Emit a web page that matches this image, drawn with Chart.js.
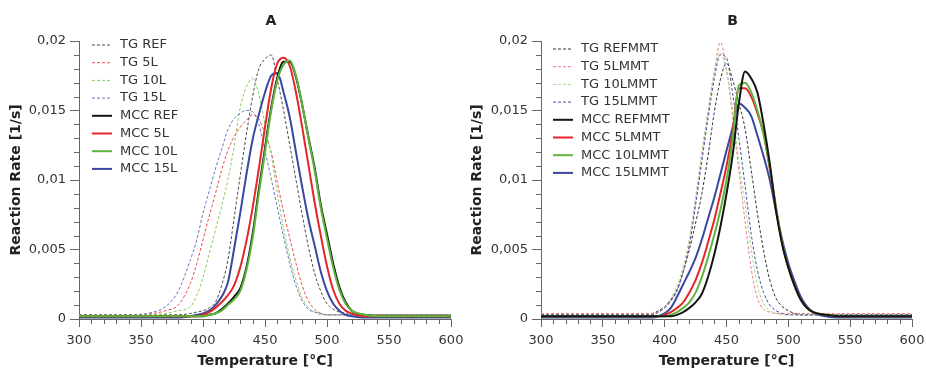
<!DOCTYPE html>
<html>
<head>
<meta charset="utf-8">
<script src="https://cdn.jsdelivr.net/npm/chart.js@4.4.1/dist/chart.umd.min.js"></script>
<style>
  body { margin: 0; background: #fff; }
  .wrap { position: absolute; top: 0; width: 463px; height: 370px; }
</style>
</head>
<body>
<div class="wrap" style="left:0"><canvas id="chartA"></canvas></div>
<div class="wrap" style="left:463px"><canvas id="chartB"></canvas></div>
<script>
// temperature points (°C), shared by every curve
const temps = [300, 320, 340, 360, 370, 380, 390, 395, 400, 405, 410, 415, 420, 425, 430, 435,
  440, 445, 450, 455, 460, 465, 470, 475, 480, 485, 490, 495, 500, 505, 510, 515, 520, 530, 540, 560, 580, 600];

const xTicks = [300, 350, 400, 450, 500, 550, 600];
const yTicks = [0, 0.005, 0.01, 0.015, 0.02];

// ---- panel A ----
const labelsA = ['TG REF', 'TG 5L', 'TG 10L', 'TG 15L', 'MCC REF', 'MCC 5L', 'MCC 10L', 'MCC 15L'];
const tgRefA = [.0003, .0003, .0003, .0003, .0003, .0003,
  .0004, .0005, .0006, .0008, .0012, .0024, .0042, .0072, .0103, .0133,
  .0160, .0180, .0187, .0190, .0172, .0150, .0125, .0100, .0075, .0052, .0033, .0020,
  .0011, .0007, .0005, .0004, .0003, .0003, .0003, .0003, .0003, .0003];
const tg5lA = [.0003, .0003, .0003, .0004, .0006, .0010,
  .0026, .0040, .0057, .0074, .0090, .0107, .0121, .0131, .0138, .0143,
  .0147, .0144, .0133, .0120, .0098, .0077, .0058, .0040, .0024, .0013, .0007, .0004,
  .0003, .0003, .0003, .0003, .0003, .0003, .0003, .0003, .0003, .0003];
const tg10lA = [.0003, .0003, .0003, .0003, .0004, .0006,
  .0009, .0017, .0030, .0047, .0064, .0081, .0100, .0124, .0152, .0167,
  .0173, .0162, .0140, .0118, .0090, .0065, .0044, .0028, .0015, .0008, .0005, .0003,
  .0003, .0003, .0003, .0003, .0003, .0003, .0003, .0003, .0003, .0003];
const tg15lA = [.0003, .0003, .0003, .0005, .0009, .0020,
  .0043, .0057, .0076, .0092, .0108, .0122, .0136, .0144, .0148, .0150,
  .0149, .0140, .0121, .0101, .0080, .0059, .0040, .0024, .0013, .0007, .0005, .0004,
  .0003, .0003, .0003, .0003, .0003, .0003, .0003, .0003, .0003, .0003];
const mccRefA = [.0002, .0002, .0002, .0002, .0002, .0002,
  .0002, .0002, .0002, .0003, .0004, .0007, .0011, .0016, .0022, .0037,
  .0061, .0093, .0123, .0152, .0174, .0185, .0185, .0174, .0154, .0131, .0109, .0082,
  .0061, .0040, .0023, .0012, .0006, .0003, .0002, .0002, .0002, .0002];
const mcc5lA = [.0002, .0002, .0002, .0002, .0002, .0002,
  .0002, .0002, .0003, .0005, .0008, .0012, .0017, .0024, .0037, .0056,
  .0080, .0108, .0138, .0166, .0184, .0188, .0182, .0163, .0138, .0111, .0084, .0060,
  .0038, .0021, .0011, .0006, .0004, .0002, .0002, .0002, .0002, .0002];
const mcc10lA = [.0002, .0002, .0002, .0002, .0002, .0002,
  .0002, .0002, .0002, .0003, .0004, .0006, .0010, .0014, .0020, .0035,
  .0058, .0090, .0120, .0150, .0172, .0183, .0186, .0175, .0154, .0130, .0107, .0080,
  .0058, .0037, .0021, .0011, .0006, .0003, .0002, .0002, .0002, .0002];
const mcc15lA = [.0001, .0001, .0001, .0001, .0001, .0001,
  .0002, .0003, .0004, .0006, .0010, .0016, .0026, .0050, .0076, .0104,
  .0129, .0147, .0163, .0175, .0177, .0163, .0145, .0120, .0095, .0072, .0053, .0034,
  .0020, .0011, .0006, .0003, .0002, .0001, .0001, .0001, .0001, .0001];

// ---- panel B ----
const labelsB = ['TG REFMMT', 'TG 5LMMT', 'TG 10LMMT', 'TG 15LMMT', 'MCC REFMMT', 'MCC 5LMMT', 'MCC 10LMMT', 'MCC 15LMMT'];
const tgRefB = [.0003, .0003, .0003, .0003, .0003, .0003,
  .0004, .0006, .0009, .0014, .0021, .0034, .0050, .0069, .0090, .0117,
  .0148, .0172, .0184, .0172, .0155, .0137, .0107, .0076, .0049, .0028, .0015, .0009,
  .0006, .0004, .0003, .0003, .0003, .0003, .0003, .0003, .0003, .0003];
const tg5lB = [.0004, .0004, .0004, .0004, .0004, .0004,
  .0004, .0005, .0008, .0013, .0020, .0034, .0054, .0084, .0117, .0148,
  .0177, .0199, .0180, .0145, .0107, .0070, .0036, .0015, .0007, .0005, .0004, .0004,
  .0004, .0004, .0004, .0004, .0004, .0004, .0004, .0004, .0004, .0004];
const tg10lB = [.0003, .0003, .0003, .0003, .0003, .0003,
  .0003, .0005, .0009, .0015, .0024, .0038, .0058, .0088, .0120, .0150,
  .0177, .0192, .0178, .0150, .0113, .0083, .0050, .0024, .0011, .0006, .0004, .0003,
  .0003, .0003, .0003, .0003, .0003, .0003, .0003, .0003, .0003, .0003];
const tg15lB = [.0003, .0003, .0003, .0003, .0003, .0003,
  .0003, .0005, .0008, .0013, .0021, .0034, .0053, .0082, .0113, .0144,
  .0172, .0190, .0188, .0162, .0130, .0096, .0061, .0035, .0019, .0010, .0006, .0004,
  .0003, .0003, .0003, .0003, .0003, .0003, .0003, .0003, .0003, .0003];
const mccRefB = [.0002, .0002, .0002, .0002, .0002, .0002,
  .0002, .0002, .0002, .0002, .0003, .0005, .0008, .0012, .0018, .0030,
  .0046, .0066, .0090, .0118, .0155, .0178, .0173, .0163, .0140, .0112, .0078, .0054,
  .0037, .0024, .0014, .0008, .0005, .0003, .0002, .0002, .0002, .0002];
const mcc5lB = [.0002, .0002, .0002, .0002, .0002, .0002,
  .0002, .0002, .0003, .0005, .0008, .0012, .0019, .0028, .0040, .0055,
  .0071, .0090, .0110, .0135, .0166, .0166, .0160, .0148, .0133, .0108, .0080, .0054,
  .0037, .0024, .0014, .0008, .0005, .0003, .0002, .0002, .0002, .0002];
const mcc10lB = [.0002, .0002, .0002, .0002, .0002, .0002,
  .0002, .0002, .0002, .0003, .0005, .0008, .0012, .0019, .0030, .0044,
  .0060, .0078, .0100, .0130, .0168, .0170, .0163, .0150, .0133, .0109, .0081, .0055,
  .0037, .0024, .0014, .0008, .0005, .0003, .0002, .0002, .0002, .0002];
const mcc15lB = [.0001, .0001, .0001, .0001, .0001, .0001,
  .0001, .0002, .0004, .0008, .0016, .0025, .0034, .0044, .0057, .0072,
  .0087, .0104, .0121, .0138, .0155, .0152, .0146, .0132, .0117, .0100, .0078, .0057,
  .0040, .0027, .0016, .0009, .0005, .0002, .0001, .0001, .0001, .0001];

const colorsA = ['#4a4a4a', '#f0474b', '#86cc62', '#6a74bf', '#141414', '#e5252b', '#5db53a', '#3848a0'];
const colorsB = ['#333333', '#f47c80', '#a3d88a', '#4350a3', '#141414', '#e5252b', '#5db53a', '#3848a0'];
const dashed = [true, true, true, true, false, false, false, false];

const axisColor = '#666';
const fontFamily = '"DejaVu Sans", Verdana, sans-serif';

// little ticks between the labelled ones
const minorTicks = {
  id: 'minorTicks',
  afterDraw: function (chart) {
    const ctx = chart.ctx;
    const area = chart.chartArea;
    const x = chart.scales.x, y = chart.scales.y;
    ctx.save();
    ctx.strokeStyle = axisColor;
    ctx.lineWidth = 1;
    ctx.beginPath();
    for (let t = 310; t < 600; t += 10) {
      if (t % 50 === 0) continue;
      const px = Math.round(x.getPixelForValue(t)) + 0.5;
      ctx.moveTo(px, area.bottom);
      ctx.lineTo(px, area.bottom + 5);
    }
    for (let k = 1; k < 20; k++) {
      if (k % 5 === 0) continue;
      const py = Math.round(y.getPixelForValue(k / 1000)) + 0.5;
      ctx.moveTo(area.left - 5, py);
      ctx.lineTo(area.left, py);
    }
    ctx.stroke();
    ctx.restore();
  }
};

// legend list inside the plot, top left
const legendBox = {
  id: 'legendBox',
  afterDraw: function (chart, args, opts) {
    const ctx = chart.ctx;
    ctx.save();
    ctx.font = '13px ' + fontFamily;
    ctx.textBaseline = 'middle';
    chart.data.datasets.forEach(function (ds, i) {
      const yy = opts.y + i * opts.step;
      ctx.strokeStyle = ds.borderColor;
      ctx.lineWidth = ds.borderWidth;
      ctx.setLineDash(ds.borderDash);
      ctx.beginPath();
      ctx.moveTo(opts.x, yy);
      ctx.lineTo(opts.x + 20, yy);
      ctx.stroke();
      ctx.setLineDash([]);
      ctx.fillStyle = '#333';
      ctx.fillText(ds.label, opts.x + 28, yy);
    });
    ctx.restore();
  }
};

// panel letter above the plot
const panelTitle = {
  id: 'panelTitle',
  afterDraw: function (chart, args, opts) {
    const ctx = chart.ctx;
    const area = chart.chartArea;
    ctx.save();
    ctx.font = 'bold 14px ' + fontFamily;
    ctx.fillStyle = '#222';
    ctx.textAlign = 'center';
    ctx.textBaseline = 'middle';
    ctx.fillText(opts.text, (area.left + area.right) / 2 + 6, 21);
    ctx.restore();
  }
};

function fmt(v) {
  if (v === 0) return '0';
  return String(Math.round(v * 1000) / 1000).replace('.', ',');
}

function makeChart(id, title, labels, series, colors, orders, cfg) {
  const datasets = series.map(function (vals, i) {
    return {
      label: labels[i],
      data: temps.map(function (t, k) { return { x: t, y: vals[k] }; }),
      borderColor: colors[i],
      borderWidth: dashed[i] ? 1 : 2,
      borderDash: dashed[i] ? [3, 2] : [],
      pointRadius: 0,
      cubicInterpolationMode: 'monotone',
      fill: false,
      order: orders[i]
    };
  });
  return new Chart(document.getElementById(id), {
    type: 'line',
    data: { datasets: datasets },
    options: {
      responsive: true,
      maintainAspectRatio: false,
      animation: false,
      layout: { padding: { top: 41, right: cfg.right, bottom: 0, left: 0 } },
      plugins: {
        legend: { display: false },
        tooltip: { enabled: false },
        legendBox: { x: cfg.legX, y: cfg.legY, step: 17.7 },
        panelTitle: { text: title }
      },
      scales: {
        x: {
          type: 'linear', min: 300, max: 600,
          afterBuildTicks: function (s) { s.ticks = xTicks.map(function (v) { return { value: v }; }); },
          ticks: { autoSkip: false, maxRotation: 0, padding: 6, color: '#333', font: { family: fontFamily, size: 13 } },
          grid: { drawOnChartArea: false, tickLength: 8, color: axisColor },
          border: { color: axisColor },
          title: { display: true, text: 'Temperature [°C]', color: '#222', padding: 0,
                   font: { family: fontFamily, size: 14, weight: 'bold' } },
          // fixed height, and let the last label hang past the plot edge
          afterFit: function (s) { s.height = 51; s.paddingLeft = 0; s.paddingRight = 0; }
        },
        y: {
          min: 0, max: 0.02,
          afterBuildTicks: function (s) { s.ticks = yTicks.map(function (v) { return { value: v }; }); },
          ticks: { padding: 4, color: '#333', font: { family: fontFamily, size: 13 }, callback: fmt },
          grid: { drawOnChartArea: false, tickLength: 9, color: axisColor },
          border: { color: axisColor },
          title: { display: true, text: 'Reaction Rate [1/s]', color: '#222', padding: { top: cfg.yTitlePad, bottom: 0 },
                   font: { family: fontFamily, size: 14, weight: 'bold' } },
          afterFit: function (s) { s.width = cfg.yWidth; }
        }
      }
    },
    plugins: [minorTicks, legendBox, panelTitle]
  });
}

makeChart('chartA', 'A', labelsA,
  [tgRefA, tg5lA, tg10lA, tg15lA, mccRefA, mcc5lA, mcc10lA, mcc15lA], colorsA,
  [8, 7, 6, 5, 3, 2, 1, 4],
  { right: 12, yWidth: 79, yTitlePad: 8, legX: 92, legY: 45 });

makeChart('chartB', 'B', labelsB,
  [tgRefB, tg5lB, tg10lB, tg15lB, mccRefB, mcc5lB, mcc10lB, mcc15lB], colorsB,
  [8, 7, 6, 5, 1, 3, 2, 4],
  { right: 14, yWidth: 78, yTitlePad: 6, legX: 90, legY: 49 });
</script>
</body>
</html>
